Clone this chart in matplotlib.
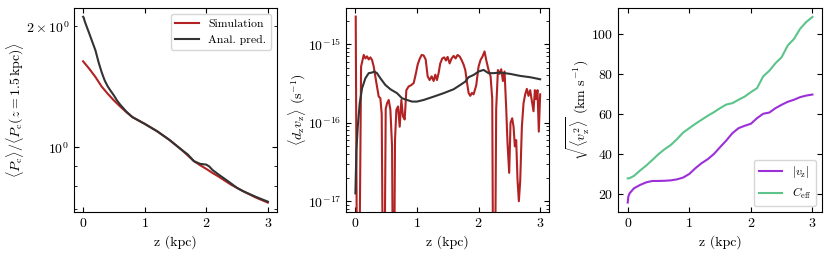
import matplotlib
matplotlib.use('Agg')
import matplotlib.pyplot as plt
import numpy as np

plt.rcParams['font.family'] = 'serif'
plt.rcParams['font.serif'] = ['cmr10', 'DejaVu Serif']
plt.rcParams['mathtext.fontset'] = 'cm'
plt.rcParams['axes.formatter.use_mathtext'] = True
plt.rcParams['axes.unicode_minus'] = False
plt.rcParams['font.size'] = 10

RED = '#b22222'
DARK = '#333333'
PURPLE = '#9b30d9'
GREEN = '#5cc48a'

# --- panel 1: normalised cosmic-ray pressure ---
z_sim_p = [0.0, 0.1, 0.2, 0.3, 0.4, 0.5, 0.6, 0.7, 0.8, 1.0, 1.2, 1.4, 1.6, 1.8, 1.9, 2.0,
           2.1, 2.2, 2.4, 2.6, 2.8, 3.0]
p_sim = [1.635, 1.567, 1.495, 1.416, 1.358, 1.307, 1.263, 1.223, 1.188, 1.143, 1.096, 1.043,
         0.985, 0.923, 0.902, 0.883, 0.863, 0.845, 0.807, 0.777, 0.750, 0.728]

z_anal_p = [0.0, 0.01, 0.025, 0.05, 0.1, 0.15, 0.2, 0.25, 0.3, 0.35, 0.4, 0.45, 0.5, 0.55,
            0.6, 0.7, 0.8, 1.0, 1.2, 1.4, 1.6, 1.7, 1.8, 1.9, 2.0, 2.05, 2.1, 2.2, 2.3,
            2.4, 2.5, 2.6, 2.8, 3.0]
p_anal = [2.11, 2.10, 2.06, 2.01, 1.918, 1.827, 1.742, 1.629, 1.538, 1.466, 1.416, 1.379,
          1.345, 1.307, 1.277, 1.227, 1.188, 1.143, 1.096, 1.043, 0.985, 0.959, 0.923,
          0.909, 0.905, 0.895, 0.878, 0.855, 0.834, 0.813, 0.792, 0.777, 0.753, 0.732]

# --- panel 2: <d_z v_z> ---
z_sim_d = [0.005, 0.027, 0.059, 0.076, 0.092, 0.135, 0.162, 0.189, 0.216, 0.243, 0.270,
           0.297, 0.341, 0.378, 0.405, 0.427, 0.449, 0.470, 0.492, 0.514, 0.541, 0.568,
           0.595, 0.611, 0.627, 0.643, 0.665, 0.692, 0.719, 0.746, 0.773, 0.800, 0.827,
           0.865, 0.903, 0.946, 0.978, 1.011, 1.043, 1.076, 1.108, 1.141, 1.173, 1.205,
           1.238, 1.270, 1.297, 1.324, 1.351, 1.378, 1.411, 1.443, 1.470, 1.497, 1.530,
           1.562, 1.595, 1.627, 1.659, 1.692, 1.724, 1.757, 1.784, 1.811, 1.838, 1.865,
           1.892, 1.919, 1.962, 2.000, 2.032, 2.065, 2.097, 2.124, 2.162, 2.195, 2.222,
           2.238, 2.265, 2.286, 2.314, 2.341, 2.368, 2.395, 2.422, 2.449, 2.470, 2.497,
           2.519, 2.546, 2.568, 2.589, 2.611, 2.632, 2.654, 2.676, 2.703, 2.730, 2.757,
           2.784, 2.811, 2.838, 2.865, 2.892, 2.914, 2.935, 2.957, 2.978, 3.000]
d_sim = [2.25e-15, 5e-19, 5e-19, 1.5e-17, 5.2e-16, 7.3e-16, 6.6e-16, 7.0e-16, 6.4e-16,
         6.8e-16, 6.3e-16, 5.2e-16, 3.2e-16, 2.16e-16, 2.05e-16, 1.3e-16, 5e-19, 5e-19,
         1.5e-16, 1.77e-16, 1.95e-16, 1.46e-16, 5e-17, 5e-19, 5e-19, 6e-17, 1.46e-16,
         1.61e-16, 8.9e-17, 1.95e-16, 1.2e-16, 1.1e-16, 2.6e-16, 2.9e-16, 3.0e-16,
         3.2e-16, 4.1e-16, 5.5e-16, 6.5e-16, 7.3e-16, 7.2e-16, 6.4e-16, 3.9e-16, 3.5e-16,
         3.9e-16, 3.4e-16, 4.1e-16, 3.5e-16, 4.3e-16, 5.7e-16, 6.6e-16, 6.8e-16, 6.2e-16,
         6.9e-16, 5.7e-16, 6.6e-16, 7.1e-16, 6.6e-16, 7.3e-16, 7.0e-16, 6.3e-16, 5.5e-16,
         4.7e-16, 3.3e-16, 2.4e-16, 2.2e-16, 2.4e-16, 2.3e-16, 3.0e-16, 5.2e-16, 6.3e-16,
         7.0e-16, 8.1e-16, 6.3e-16, 4.7e-16, 3.9e-16, 2.0e-16, 5e-19, 5e-19, 1.5e-16,
         4.7e-16, 4.2e-16, 4.8e-16, 3.4e-16, 4.5e-16, 1.5e-16, 5.5e-17, 2.3e-17, 1.0e-16,
         1.14e-16, 8.9e-17, 5e-17, 6e-17, 1.9e-17, 1.0e-17, 1.8e-17, 8.9e-17, 1.77e-16,
         2.3e-16, 2.7e-16, 2.2e-16, 2.6e-16, 1.9e-16, 1.4e-16, 2.6e-16, 2.0e-16, 2.6e-16,
         7.7e-17, 2.3e-16]

z_anal_d = [0.0, 0.016, 0.038, 0.070, 0.108, 0.162, 0.216, 0.270, 0.308, 0.35, 0.405,
            0.486, 0.568, 0.676, 0.757, 0.838, 0.919, 1.0, 1.108, 1.27, 1.432, 1.595,
            1.703, 1.784, 1.838, 1.919, 2.0, 2.081, 2.162, 2.243, 2.351, 2.514, 2.676,
            2.838, 3.0]
d_anal = [1.26e-17, 4.47e-17, 8.9e-17, 1.77e-16, 2.75e-16, 3.69e-16, 4.28e-16, 4.36e-16,
          4.49e-16, 4.28e-16, 3.69e-16, 3.03e-16, 2.67e-16, 2.38e-16, 2.05e-16, 1.95e-16,
          1.86e-16, 1.86e-16, 1.95e-16, 2.15e-16, 2.38e-16, 2.67e-16, 3.03e-16, 3.34e-16,
          3.80e-16, 4.06e-16, 4.49e-16, 4.71e-16, 4.28e-16, 4.28e-16, 4.36e-16, 4.19e-16,
          3.95e-16, 3.80e-16, 3.58e-16]
d_ticks = [1e-17, 1e-16, 1e-15]

# --- panel 3: velocities ---
z_vel = [0.0, 0.01, 0.03, 0.1, 0.2, 0.3, 0.4, 0.5, 0.6, 0.7, 0.8, 0.9, 1.0, 1.1, 1.2, 1.3,
         1.4, 1.5, 1.6, 1.7, 1.8, 1.9, 2.0, 2.1, 2.2, 2.3, 2.4, 2.5, 2.6, 2.7, 2.8, 2.9, 3.0]
v_z = [15.7, 18.7, 20.3, 22.8, 24.5, 25.8, 26.5, 26.5, 26.6, 26.8, 27.3, 28.2, 30.0, 32.9,
       35.4, 37.4, 40.0, 43.4, 46.7, 50.4, 52.9, 54.1, 55.1, 57.9, 60.1, 60.7, 62.9, 64.6,
       66.1, 67.1, 68.4, 69.2, 69.7]
c_eff = [27.8, 27.8, 27.9, 29.0, 31.7, 34.2, 37.0, 39.9, 42.4, 44.5, 47.4, 50.7, 52.9, 55.1,
         57.1, 59.1, 60.9, 62.9, 64.7, 65.4, 67.1, 68.7, 70.9, 72.9, 78.8, 81.6, 85.4, 88.4,
         94.3, 97.5, 102.6, 106.0, 108.5]
v_ticks = [20, 40, 60, 80, 100]

fig, axes = plt.subplots(1, 3, figsize=(8.3, 2.56), dpi=100)
fig.subplots_adjust(left=0.089, right=0.990, bottom=0.172, top=0.969, wspace=0.34)

for ax in axes:
    ax.tick_params(which='both', direction='in', top=True, right=True)
    ax.set_xlabel('z (kpc)')
    ax.set_xticks([0, 1, 2, 3])

ax = axes[0]
ax.plot(z_sim_p, p_sim, color=RED, lw=1.5, label='Simulation')
ax.plot(z_anal_p, p_anal, color=DARK, lw=1.5, label='Anal. pred.')
ax.set_yscale('log')
ax.set_ylim(0.69, 2.22)
ax.set_ylabel(r'$\langle P_{\rm c}\rangle/\langle P_{\rm c}(z=1.5\,{\rm kpc})\rangle$', labelpad=0)
ax.legend(loc='upper right', fontsize=8.5, fancybox=True, framealpha=0.8)

ax = axes[1]
ax.plot(z_sim_d, d_sim, color=RED, lw=1.5)
ax.plot(z_anal_d, d_anal, color=DARK, lw=1.5)
ax.set_yscale('log')
ax.set_yticks(d_ticks)
ax.set_ylim(7.3e-18, 2.9e-15)
ax.yaxis.set_minor_formatter(matplotlib.ticker.NullFormatter())
ax.set_ylabel(r'$\langle d_{\rm z} v_{\rm z}\rangle$ (s$^{-1}$)', labelpad=0)

ax = axes[2]
ax.plot(z_vel, v_z, color=PURPLE, lw=1.5, label=r'$|v_{\rm z}|$')
ax.plot(z_vel, c_eff, color=GREEN, lw=1.5, label=r'$C_{\rm eff}$')
ax.set_ylim(11, 113)
ax.set_yticks(v_ticks)
ax.set_ylabel(r'$\sqrt{\langle v_{\rm z}^2\rangle}$ (km s$^{-1}$)', labelpad=0)
ax.legend(loc='lower right', fontsize=8.5, fancybox=True, framealpha=0.8)

fig.savefig('out.png', dpi=100)
